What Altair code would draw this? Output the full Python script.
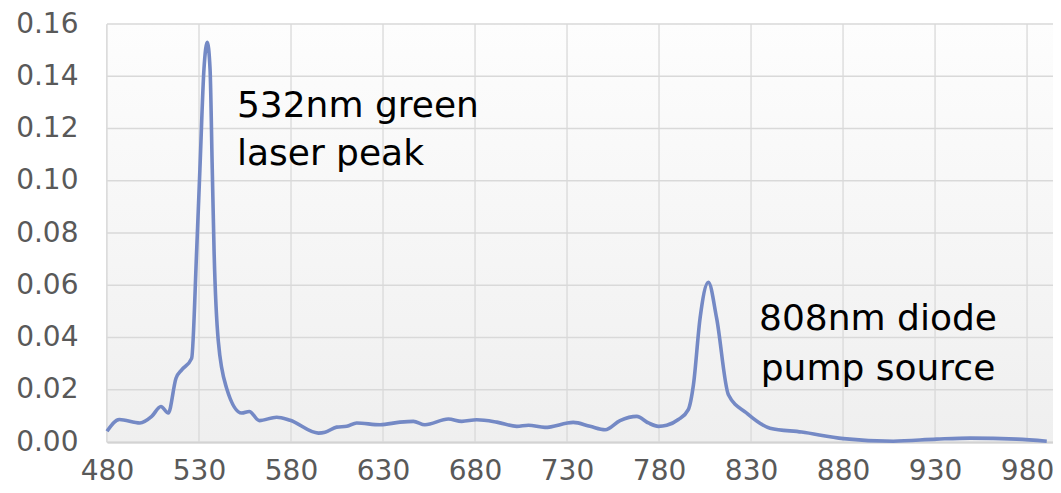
import altair as alt
import pandas as pd

wavelength = [480, 486.7, 497.9, 504.3, 509.3, 513.3, 517.5, 520.6, 526, 528.7, 530.5, 532.7,
              534.5, 536, 537.2, 538.2, 540.5, 545, 553.2, 557.3, 562.8, 572.2, 579.5, 594.9,
              598.5, 604.8, 610.3, 615.7, 628.4, 639.2, 646.5, 652.8, 665.5, 672.8, 680.9,
              691.8, 702.7, 709, 718, 733.4, 742.5, 750.7, 758.8, 767.9, 774.2, 779.7, 784.2,
              790.5, 795.9, 798.7, 802.3, 806.8, 811.3, 817.7, 827.6, 840.3, 857.5, 880.2,
              907.3, 930.9, 949, 974.4, 990.7]
intensity = [0.0041, 0.0086, 0.0073, 0.0098, 0.0136, 0.0111, 0.0244, 0.0276, 0.032, 0.0728,
             0.1046, 0.1428, 0.153, 0.1428, 0.1046, 0.0728, 0.0385, 0.0206, 0.0111, 0.0117,
             0.0082, 0.0095, 0.0083, 0.0034, 0.0037, 0.0057, 0.006, 0.0073, 0.0066, 0.0076,
             0.0079, 0.0066, 0.0088, 0.0079, 0.0085, 0.0076, 0.006, 0.0064, 0.0056, 0.0075,
             0.006, 0.0047, 0.0082, 0.0098, 0.0073, 0.006, 0.0064, 0.0086, 0.0124, 0.0219,
             0.0474, 0.0611, 0.0474, 0.0181, 0.0111, 0.0053, 0.0038, 0.0013, 0.0003, 0.0011,
             0.0015, 0.0011, 0.0003]

x_ticks = [480, 530, 580, 630, 680, 730, 780, 830, 880, 930, 980]
y_ticks = [0.0, 0.02, 0.04, 0.06, 0.08, 0.10, 0.12, 0.14, 0.16]

label_text = ["532nm green\nlaser peak", "808nm diode\npump source"]
label_x = [550.6, 899.0]
label_y = [0.1244, 0.0429]

W = 946
H = 418
FONT = "DejaVu Sans"

xscale = alt.Scale(domain=[480, 994.1], nice=False, zero=False)
yscale = alt.Scale(domain=[0, 0.16], nice=False)

xaxis = alt.Axis(values=x_ticks, grid=False, ticks=False, labelFontSize=28, labelColor="#595959",
                 labelFont=FONT, labelPadding=15, domainColor="#c4c4c4", domainWidth=2,
                 title=None, format="d", labelFlush=False)
yaxis = alt.Axis(values=y_ticks, grid=False, ticks=False, labelFontSize=28, labelColor="#595959",
                 labelFont=FONT, labelPadding=29, domainColor="#c4c4c4", domainWidth=2,
                 title=None, format=".2f")

spec_df = pd.DataFrame({"wl": wavelength, "val": intensity})
xt_df = pd.DataFrame({"wl": x_ticks})
yt_df = pd.DataFrame({"val": y_ticks})
lab_df = pd.DataFrame({"wl": label_x, "val": label_y, "txt": label_text})

bg = alt.Chart(pd.DataFrame({"a": [0]})).mark_rect(
    color=alt.LinearGradient(
        gradient="linear", x1=0, y1=0, x2=0, y2=1,
        stops=[alt.GradientStop(offset=0, color="#fdfdfd"),
               alt.GradientStop(offset=1, color="#efefef")]
    )
).encode(x=alt.value(0), x2=alt.value(W), y=alt.value(0), y2=alt.value(H))

vgrid = alt.Chart(xt_df).mark_rule(color="#d9d9d9", strokeWidth=1.3).encode(
    x=alt.X("wl:Q", scale=xscale, axis=xaxis), y=alt.value(0), y2=alt.value(H)
)
hgrid = alt.Chart(yt_df).mark_rule(color="#d9d9d9", strokeWidth=1.3).encode(
    y=alt.Y("val:Q", scale=yscale, axis=yaxis), x=alt.value(0), x2=alt.value(W)
)

line = alt.Chart(spec_df).mark_line(color="#7489c5", strokeWidth=3.6, interpolate="monotone").encode(
    x=alt.X("wl:Q", scale=xscale, axis=xaxis),
    y=alt.Y("val:Q", scale=yscale, axis=yaxis),
)

txt_left = alt.Chart(lab_df.iloc[[0]]).mark_text(
    align="left", baseline="alphabetic", fontSize=36, font=FONT, color="#000000",
    lineBreak="\n", lineHeight=48
).encode(x=alt.X("wl:Q", scale=xscale, axis=xaxis), y=alt.Y("val:Q", scale=yscale, axis=yaxis),
         text="txt:N")
txt_center = alt.Chart(lab_df.iloc[[1]]).mark_text(
    align="center", baseline="alphabetic", fontSize=36, font=FONT, color="#000000",
    lineBreak="\n", lineHeight=50
).encode(x=alt.X("wl:Q", scale=xscale, axis=xaxis), y=alt.Y("val:Q", scale=yscale, axis=yaxis),
         text="txt:N")

chart = alt.layer(bg, vgrid, hgrid, line, txt_left, txt_center).properties(
    width=W, height=H,
    autosize=alt.AutoSizeParams(type="none"),
    padding={"left": 99, "top": 16, "right": 0, "bottom": 43},
).configure_view(stroke=None).configure(background="#ffffff")

chart.save("out.html", embed_options={"renderer": "svg", "actions": False})
